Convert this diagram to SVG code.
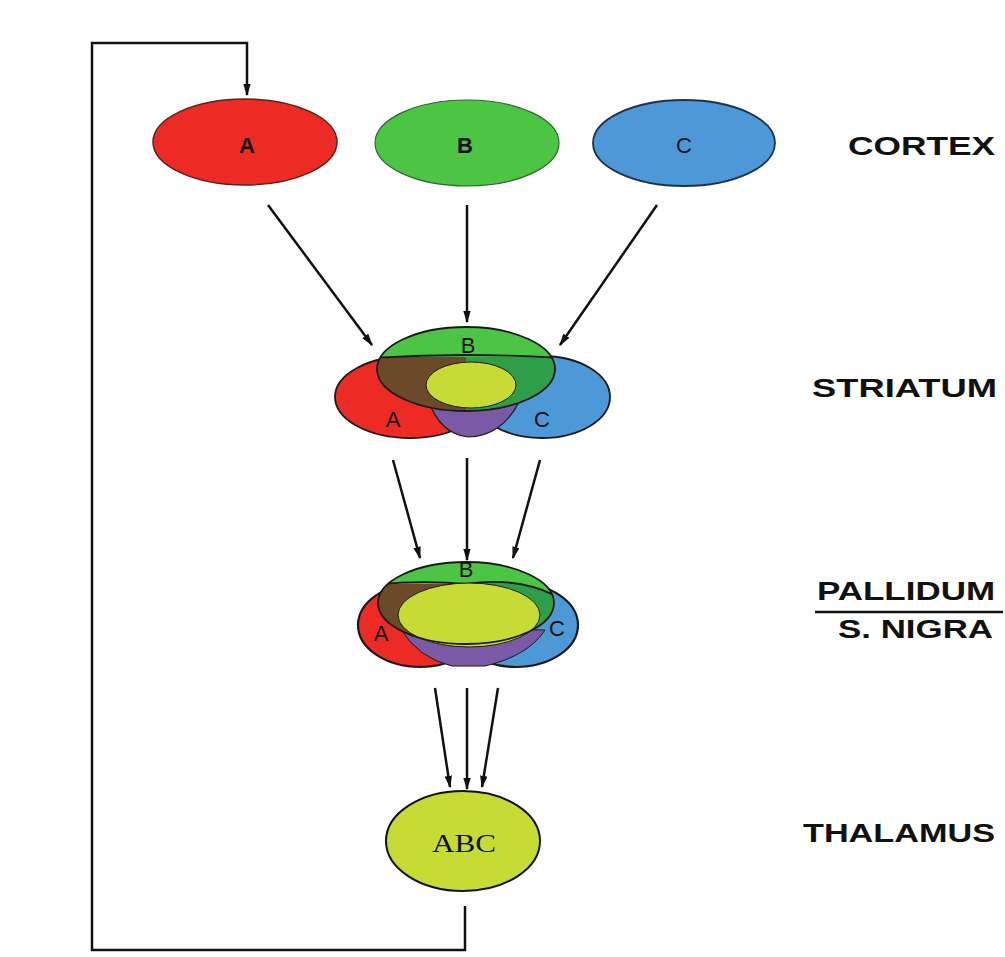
<svg xmlns="http://www.w3.org/2000/svg" width="1005" height="957" viewBox="0 0 1005 957">
<style>
.lbl{font-family:"Liberation Sans",Arial,sans-serif;font-weight:bold;font-size:25px;fill:#111}
.let{font-family:"Liberation Sans",Arial,sans-serif;font-size:22px;fill:#111;text-anchor:middle}
.ol{stroke:#1a1a1a;stroke-width:1.8;fill:none}
.con{stroke:#111;stroke-width:2.5;fill:none}
</style>
<defs>
<marker id="ah" viewBox="0 0 10 6" refX="9" refY="3" markerWidth="5" markerHeight="3" orient="auto" markerUnits="strokeWidth">
<path d="M0,0 L10,3 L0,6 z" fill="#111"/>
</marker>
<clipPath id="sB"><ellipse cx="466" cy="369" rx="89" ry="42"/></clipPath>
<clipPath id="pB"><ellipse cx="466" cy="603" rx="88" ry="41"/></clipPath>
</defs>
<rect width="1005" height="957" fill="#fff"/>

<g id="connectors">
<path class="con" d="M465,906 L465,950 L92,950 L92,43 L247,43 L247,95" marker-end="url(#ah)"/>
<line class="con" x1="268" y1="205" x2="372" y2="345" marker-end="url(#ah)"/>
<line class="con" x1="467" y1="205" x2="467" y2="322" marker-end="url(#ah)"/>
<line class="con" x1="657" y1="205" x2="560" y2="345" marker-end="url(#ah)"/>
<line class="con" x1="393" y1="460" x2="420" y2="558" marker-end="url(#ah)"/>
<line class="con" x1="467" y1="458" x2="467" y2="560" marker-end="url(#ah)"/>
<line class="con" x1="540" y1="460" x2="513" y2="558" marker-end="url(#ah)"/>
<line class="con" x1="435" y1="688" x2="450" y2="787" marker-end="url(#ah)"/>
<line class="con" x1="467" y1="688" x2="467" y2="789" marker-end="url(#ah)"/>
<line class="con" x1="498" y1="688" x2="482" y2="787" marker-end="url(#ah)"/>
</g>

<g id="cortex-A">
<ellipse cx="245" cy="142" rx="92" ry="43" fill="#ee2a24" stroke="#5a2418" stroke-width="1.5"/>
<text class="let" x="247" y="153" font-weight="bold">A</text>
</g>
<g id="cortex-B">
<ellipse cx="467" cy="143" rx="92" ry="43" fill="#4cc444" stroke="#2a6a2a" stroke-width="1.2"/>
<text class="let" x="465" y="153" font-weight="bold">B</text>
</g>
<g id="cortex-C">
<ellipse cx="684" cy="143" rx="91" ry="43" fill="#4d98d6" stroke="#1e3250" stroke-width="1.8"/>
<text class="let" x="684" y="153">C</text>
</g>

<g id="striatum">
<ellipse cx="410" cy="397" rx="75" ry="41" fill="#ee2a24" stroke="#1a1a1a" stroke-width="1.8"/>
<ellipse cx="542" cy="397" rx="68" ry="41" fill="#4d98d6" stroke="#1a1a1a" stroke-width="1.8"/>
<path d="M428,400 C436,422 450,435 468,437 C490,437 508,424 519,402 Z" fill="#7a5aa6" stroke="#1a1a1a" stroke-width="1.2"/>
<ellipse cx="466" cy="369" rx="89" ry="42" fill="#4cc444"/>
<g clip-path="url(#sB)">
<rect x="370" y="357" width="96" height="60" fill="#6a4a28"/>
<rect x="466" y="357" width="96" height="60" fill="#2e9e48"/>
<path class="ol" d="M370,358 Q466,352 562,358" stroke-width="1.2"/>
</g>
<ellipse cx="471" cy="385" rx="45" ry="23" fill="#c6dc34" stroke="#1a1a1a" stroke-width="1"/>
<ellipse class="ol" cx="466" cy="369" rx="89" ry="42"/>
<text class="let" x="468" y="353">B</text>
<text class="let" x="393" y="427" font-size="27">A</text>
<text class="let" x="542" y="427" font-size="27">C</text>
</g>

<g id="pallidum">
<ellipse cx="420" cy="625" rx="62" ry="42" fill="#ee2a24" stroke="#1a1a1a" stroke-width="2.2"/>
<ellipse cx="516" cy="625" rx="62" ry="42" fill="#4d98d6" stroke="#1a1a1a" stroke-width="2.2"/>
<path d="M400,628 Q418,658 452,666 L485,666 Q528,656 545,630 Z" fill="#7a5aa6" stroke="#1a1a1a" stroke-width="1"/>
<ellipse cx="466" cy="603" rx="88" ry="41" fill="#4cc444"/>
<g clip-path="url(#pB)">
<rect x="370" y="584" width="96" height="70" fill="#6a4a28"/>
<path d="M466,584 Q520,576 560,598 L560,660 L466,660 Z" fill="#2e9e48"/>
<path class="ol" d="M370,585 Q420,580 466,584 Q520,576 560,598" stroke-width="1.2"/>
</g>
<ellipse cx="469" cy="615" rx="71" ry="32" fill="#c6dc34" stroke="#1a1a1a" stroke-width="1"/>
<ellipse class="ol" cx="466" cy="603" rx="88" ry="41" stroke-width="2"/>
<text class="let" x="466" y="577" font-size="18">B</text>
<text class="let" x="381" y="641" font-size="16">A</text>
<text class="let" x="557" y="636" font-size="16">C</text>
</g>

<g id="thalamus">
<ellipse cx="463" cy="841" rx="77" ry="50" fill="#c6dc34" stroke="#111" stroke-width="2"/>
<text x="464" y="852" font-family="'Liberation Serif','Times New Roman',serif" font-size="26" text-anchor="middle" fill="#111" textLength="64" lengthAdjust="spacingAndGlyphs">ABC</text>
</g>

<g id="labels">
<text class="lbl" x="848" y="155" textLength="147" lengthAdjust="spacingAndGlyphs">CORTEX</text>
<text class="lbl" x="812" y="397" textLength="185" lengthAdjust="spacingAndGlyphs">STRIATUM</text>
<text class="lbl" x="817" y="600" textLength="178" lengthAdjust="spacingAndGlyphs">PALLIDUM</text>
<line x1="815" y1="612" x2="1003" y2="612" stroke="#111" stroke-width="2.5"/>
<text class="lbl" x="838" y="638" textLength="155" lengthAdjust="spacingAndGlyphs">S. NIGRA</text>
<text class="lbl" x="803" y="842" textLength="192" lengthAdjust="spacingAndGlyphs">THALAMUS</text>
</g>
</svg>
